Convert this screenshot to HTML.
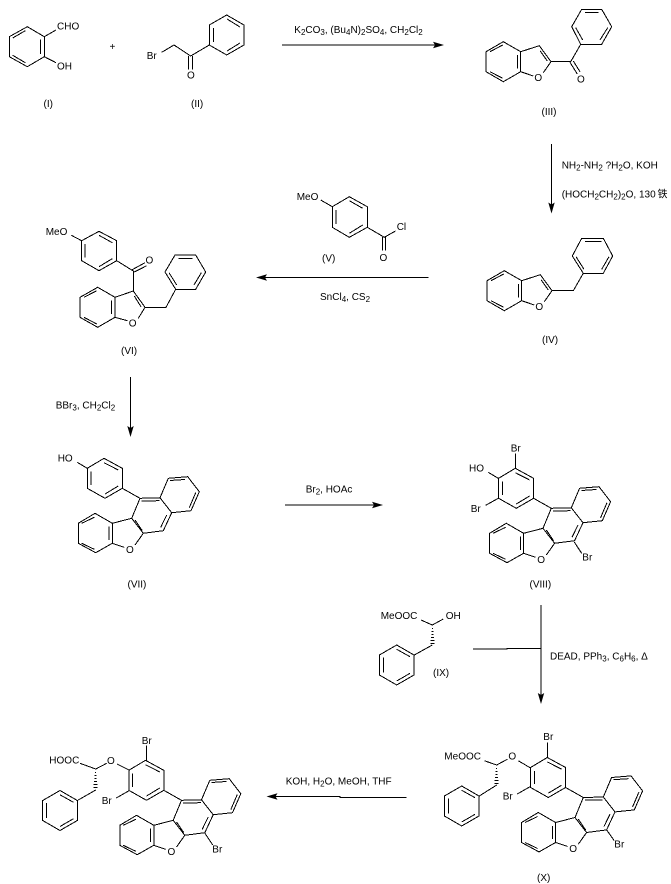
<!DOCTYPE html>
<html><head><meta charset="utf-8"><style>
html,body{margin:0;padding:0;background:#fff;width:671px;height:884px;overflow:hidden}
svg{display:block}
.b{fill:none;stroke:#000;stroke-width:1;shape-rendering:crispEdges}
.h{fill:none;stroke:#000;stroke-width:1;shape-rendering:crispEdges}
text{font-family:"Liberation Sans","Noto Sans CJK SC",sans-serif;font-size:10px;fill:#000}
.s{font-size:8px}
</style></head><body>
<svg xmlns="http://www.w3.org/2000/svg" width="671" height="884" viewBox="0 0 671 884">
<defs>
<polygon id="ah" points="0,0 -11,3.2 -9,0 -11,-3.2" fill="#000"/>
<path id="hash" class="h" d="M-.5 3H.5M-1 6H1M-1 9H1M-1.5 12H1.5M-2 15H2M-2 18H2"/>
<path id="phenol" class="b" d="M104 458.3L122.3 468.3V488.3L105 498.3L87.3 488.3V468.3ZM104 462.7L118.3 470M105 494L118.3 486M91 471.7V485"/>
<path id="core" class="b" d="M122.3 488.3L140 498.3M140 498.3L160 497.8M141.7 501L159.3 500.7M160 497.8L168.3 478.3L187.7 476.7L199.3 491.7L191 510.7L171.7 512.7L160 497.8M170 480.5L185 479.5M195.7 492.7L189.3 507.7M171.7 512.7L163.3 530.7L143.3 533.3L131.7 518.3L140 498.3M166.7 515L160.7 527.3M135 520L142.3 530.7M112.3 523.3L131.7 518.3M143.3 533.3L135 545M112.3 543.3L124.3 547.3M95 513.3L112.3 523.3V543.3L95.7 552.7L78.3 543.3V523.3ZM81.7 523.3L94.3 517.3M109 526.7V540M81.7 543.3L94.3 549.3"/>
<path id="bf" class="b" d="M503.3 41.7L520.7 51.7V71.7L503.3 81.7L486 71.7V51.7ZM490 51.7L502.7 45M517.3 55V68.3M490 71.7L502.7 78.3M520.7 51.7L539.3 45.7L551 61.7L543.3 72.7M520.7 71.7L533.3 76M540 50.7L547.3 61"/>
<path id="lph" class="b" d="M0 0L17.3 10V30L0 40L-17.3 30V10ZM0 4.3L13.3 11.7M13.3 28.3L0 36M-13.3 12.3V27.7"/>
</defs>

<!-- I -->
<path class="b" d="M27.3 26.7L44.3 36.7V56.7L27.3 66.7L9.3 56.7V36.7ZM12.7 38L25.3 30.7M40.7 39.3V54M12.7 55.3L25.3 62.7M44.3 36.7L56 30M44.3 56.7L56 62.7"/>
<text x="57" y="29.5">CHO</text><text x="57" y="69.7">OH</text>
<text x="109.5" y="50">+</text>
<text x="43.5" y="107">(I)</text>
<!-- II -->
<path class="b" d="M226.7 15L244 25V45L226.7 55L209.3 45V25ZM227 19L240 27M227 51L240 43M213.3 28V42M209.3 45L190.7 56L174 45L161.7 52.3M188.7 56V69.5M192.7 56V69.5"/>
<text x="146.7" y="59">Br</text><text x="187" y="78.5">O</text>
<text x="191" y="107">(II)</text>
<!-- arrow 1 -->
<path class="b" d="M282 45H440"/><use href="#ah" transform="translate(444,45)"/>
<text x="294.3" y="33">K<tspan class="s" dy="2">2</tspan><tspan dy="-2">CO</tspan><tspan class="s" dy="2">3</tspan><tspan dy="-2">, (Bu</tspan><tspan class="s" dy="2">4</tspan><tspan dy="-2">N)</tspan><tspan class="s" dy="2">2</tspan><tspan dy="-2">SO</tspan><tspan class="s" dy="2">4</tspan><tspan dy="-2">, CH</tspan><tspan class="s" dy="2">2</tspan><tspan dy="-2">Cl</tspan><tspan class="s" dy="2">2</tspan></text>
<!-- III -->
<use href="#bf"/>
<path class="b" d="M551 61.7H570.7L580.7 44.3H601.7L611.7 26.7L601.7 9.3H581.7L571.7 26.7L580.7 44.3M601.7 44.3M585 12.7H598.3M575.7 27.7L582.7 40M607.7 27.7L600 40M570 62.3L577.3 74M573.3 61L580 71.7"/>
<text x="534.4" y="81">O</text>
<text x="577" y="82.7">O</text>
<text x="541.5" y="115">(III)</text>
<!-- arrow 2 -->
<path class="b" d="M551.5 144V210"/><use href="#ah" transform="translate(551.5,213.5) rotate(90)"/>
<text x="561.7" y="168.3">NH<tspan class="s" dy="2">2</tspan><tspan dy="-2">-NH</tspan><tspan class="s" dy="2">2</tspan><tspan dy="-2"> ?H</tspan><tspan class="s" dy="2">2</tspan><tspan dy="-2">O, KOH</tspan></text>
<text x="561.7" y="197.3">(HOCH<tspan class="s" dy="2">2</tspan><tspan dy="-2">CH</tspan><tspan class="s" dy="2">2</tspan><tspan dy="-2">)</tspan><tspan class="s" dy="2">2</tspan><tspan dy="-2">O, 130 </tspan></text>
<text x="657.5" y="197.3">铁</text>
<!-- IV -->
<use href="#bf" transform="translate(1,229)"/>
<path class="b" d="M552 290.7H573.3L583.3 273.3H603.3L612.7 256L603.3 238.3H581.7L572.3 256L583.3 273.3M585 241.7H601.7M576 256.7L584 269.3M609 256.7L601.7 269.3"/>
<text x="535.4" y="310">O</text>
<text x="542" y="343">(IV)</text>
<!-- V -->
<path class="b" d="M349.3 196.7L367.3 206.7V227.3L349.3 237.3L332.3 227.3V206.7ZM349.3 200.7L362.7 208.3M349.3 233.3L362.7 225M336 210V224M332.3 206.7L320.7 200M367.3 227.3L384.3 237.3L395.5 231M382.3 237V250.7M385.7 237V250.7"/>
<text x="296.7" y="200">MeO</text><text x="396.7" y="230">Cl</text><text x="379.5" y="261">O</text>
<text x="322" y="261.7">(V)</text>
<!-- arrow 3 -->
<path class="b" d="M428.5 277.5H260"/><use href="#ah" transform="translate(256,277.5) rotate(180)"/>
<text x="320" y="300">SnCl<tspan class="s" dy="2">4</tspan><tspan dy="-2">, CS</tspan><tspan class="s" dy="2">2</tspan></text>
<!-- VI -->
<path class="b" d="M99 231.3L116.7 240.7V260.7L99 270.7L81.7 260.7V240.7ZM99 235.3L112.3 242.7M99 266.7L112.3 258.7M85 244V257.3M81.7 240.7L71.3 235.3M116.7 260.7L133.3 271V291M131.7 270L145 262.7M134.3 272L146.7 265.7M97.7 287.3L115 297.3V317.3L97.7 327.3L80 317.3V297.3ZM84 297.3L96.7 290.7M111.7 300.7V314M84 317.3L96.7 324M115 297.3L133.3 291L145 307.3L138.3 318.3M115 317.3L127.3 320.7M134.3 296L141 306.7M145 307.3H166L175.7 289.3H195.7L205.7 272L195.7 255H175L165 272L175.7 289.3M178.3 258.3H192.3M169 272.7L176.7 285M201.3 272.7L194 285"/>
<text x="45.7" y="235">MeO</text><text x="145.5" y="263.5">O</text><text x="128.8" y="326.5">O</text>
<text x="121" y="354">(VI)</text>
<!-- arrow 4 -->
<path class="b" d="M130.5 377V433"/><use href="#ah" transform="translate(130.5,437) rotate(90)"/>
<text x="55.7" y="408.3">BBr<tspan class="s" dy="2">3</tspan><tspan dy="-2">, CH</tspan><tspan class="s" dy="2">2</tspan><tspan dy="-2">Cl</tspan><tspan class="s" dy="2">2</tspan></text>
<!-- VII -->
<use href="#phenol"/><use href="#core"/>
<path class="b" d="M87.3 468.3L77.3 462.3"/>
<text x="57.7" y="461.7">HO</text><text x="126" y="552.8">O</text>
<text x="127.5" y="587.3">(VII)</text>
<!-- arrow 5 -->
<path class="b" d="M285 505H379"/><use href="#ah" transform="translate(383,505)"/>
<text x="305.7" y="492.3">Br<tspan class="s" dy="2">2</tspan><tspan dy="-2">, HOAc</tspan></text>
<!-- VIII -->
<g transform="translate(411.3,10)"><use href="#phenol"/><use href="#core"/></g>
<path class="b" d="M515.7 468.3V453.3M498.3 478.3L488.3 472.3M498.3 498.3L485.7 505.3M574 541.7L581.7 553.3"/>
<text x="510.7" y="451.7">Br</text><text x="469" y="471.7">HO</text><text x="470.7" y="512">Br</text><text x="582.3" y="560.7">Br</text><text x="537.3" y="562.8">O</text>
<text x="529.5" y="587.3">(VIII)</text>
<!-- IX -->
<path class="b" d="M421 620L432.3 625L443.3 619M432.3 645L414.3 655"/>
<use href="#hash" transform="translate(432.5,625.5)"/>
<use href="#lph" transform="translate(396.7,645)"/>
<text x="380.7" y="619">MeOOC</text><text x="445.7" y="619">OH</text>
<text x="433" y="676">(IX)</text>
<!-- arrow 6 -->
<path class="b" d="M473 649H507V648.5H541M541 605V700"/><use href="#ah" transform="translate(541,704) rotate(90)"/>
<text x="550" y="659.3">DEAD, PPh<tspan class="s" dy="2">3</tspan><tspan dy="-2">, C</tspan><tspan class="s" dy="2">6</tspan><tspan dy="-2">H</tspan><tspan class="s" dy="2">6</tspan><tspan dy="-2">, Δ</tspan></text>
<!-- X -->
<g transform="translate(443.3,299.2)"><use href="#phenol"/><use href="#core"/></g>
<path class="b" d="M547.3 757.7V742.7M530 786.7L517.3 794M530 767.7L518.3 760.7M507.3 759.3L496.7 765L484.3 760.7M496.7 785L479.3 796M606.7 830L614.3 840.7"/>
<use href="#hash" transform="translate(496.7,765.5)"/>
<use href="#lph" transform="translate(461.7,786)"/>
<text x="543.3" y="740">Br</text><text x="502.7" y="799.3">Br</text><text x="508.4" y="759.5">O</text><text x="444.3" y="759.3">MeOOC</text><text x="614.3" y="847.7">Br</text><text x="569.3" y="852">O</text>
<text x="537" y="881">(X)</text>
<!-- XI -->
<g transform="translate(41.5,302)"><use href="#phenol"/><use href="#core"/></g>
<path class="b" d="M146.7 760.7V745.7M129 790.7L116.3 798M129 770L117 764M106.7 763.3L95.7 769L80 763.3M95.7 790L78.3 800M205 833.3L212.7 845"/>
<use href="#hash" transform="translate(95.7,769.5)"/>
<use href="#lph" transform="translate(60,790.5)"/>
<text x="141.7" y="744">Br</text><text x="101.7" y="804">Br</text><text x="107" y="763.8">O</text><text x="49.3" y="763.3">HOOC</text><text x="212.3" y="852.3">Br</text><text x="167.5" y="855">O</text>
<!-- arrow 7 -->
<path class="b" d="M406.7 797.5H340V796.5H270"/><use href="#ah" transform="translate(266.5,796.5) rotate(180)"/>
<text x="285.7" y="784.3">KOH, H<tspan class="s" dy="2">2</tspan><tspan dy="-2">O, MeOH, THF</tspan></text>
</svg>
</body></html>
